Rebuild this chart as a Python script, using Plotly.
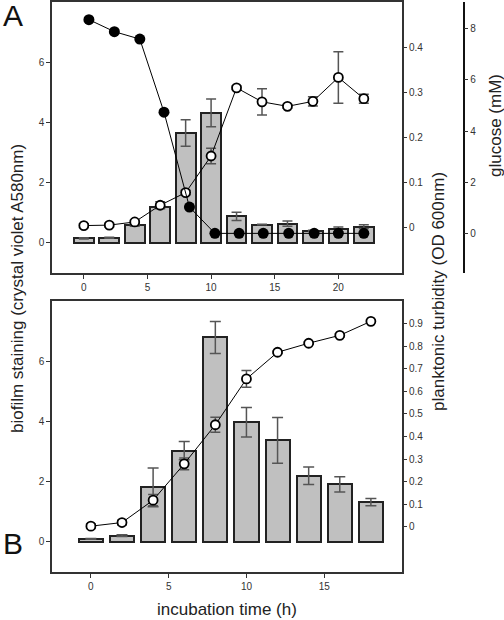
import plotly.graph_objects as go

# ---- Panel A data ----
time_a = [0, 2, 4, 6, 8, 10, 12, 14, 16, 18, 20, 22]
biofilm_a = [0.15, 0.17, 0.58, 1.2, 3.65, 4.32, 0.88, 0.61, 0.64, 0.4, 0.45, 0.54]
biofilm_a_err = [0.02, 0.02, 0.03, 0.04, 0.44, 0.46, 0.14, 0.01, 0.09, 0.02, 0.08, 0.06]
turb_a = [0.005, 0.006, 0.013, 0.05, 0.078, 0.159, 0.31, 0.279, 0.269, 0.28, 0.333, 0.286]
turb_a_err = [0.004, 0.004, 0.004, 0.008, 0.005, 0.017, 0.004, 0.029, 0.004, 0.01, 0.057, 0.01]
gluc_time = [0.4, 2.4, 4.4, 6.3, 8.3, 10.3, 12.2, 14.1, 16.1, 18.1, 20.0, 22.0]
glucose = [8.36, 7.89, 7.6, 4.74, 1.03, 0.0, 0.0, 0.0, 0.0, 0.0, 0.0, 0.0]

# ---- Panel B data ----
time_b = [0, 2, 4, 6, 8, 10, 12, 14, 16, 18]
biofilm_b = [0.1, 0.21, 1.81, 3.03, 6.79, 3.97, 3.37, 2.2, 1.91, 1.32]
biofilm_b_err = [0.01, 0.03, 0.64, 0.3, 0.53, 0.49, 0.76, 0.29, 0.25, 0.12]
turb_b = [0.003, 0.019, 0.118, 0.279, 0.452, 0.655, 0.773, 0.813, 0.848, 0.91]
turb_b_err = [0.01, 0.01, 0.025, 0.026, 0.033, 0.037, 0.005, 0.005, 0.007, 0.005]

# tick labels
left_ticks = [0, 2, 4, 6]
xa_ticks = [0, 5, 10, 15, 20]
xb_ticks = [0, 5, 10, 15]
turb_a_ticks = [0, 0.1, 0.2, 0.3, 0.4]
turb_b_ticks = [0, 0.1, 0.2, 0.3, 0.4, 0.5, 0.6, 0.7, 0.8, 0.9]
gluc_ticks = [0, 2, 4, 6, 8]

FONT = "Liberation Sans, Arial, sans-serif"
BAR_FILL = "#c0c0c0"
ERR = "#555555"

W, H = 504, 620
def px(x):
    return x / W
def py(y):
    return 1 - y / H

fig = go.Figure()

bar_style = dict(marker=dict(color=BAR_FILL, line=dict(color="#222222", width=2)), width=1.55, showlegend=False)

fig.add_trace(go.Bar(x=time_a, y=biofilm_a, xaxis="x", yaxis="y",
                     error_y=dict(type="data", array=biofilm_a_err, color=ERR, thickness=1.5, width=5),
                     **bar_style))
fig.add_trace(go.Scatter(x=time_a, y=turb_a, xaxis="x", yaxis="y2", mode="lines+markers",
                         line=dict(color="black", width=1),
                         marker=dict(symbol="circle", size=9, color="white", line=dict(color="black", width=1.8)),
                         error_y=dict(type="data", array=turb_a_err, color=ERR, thickness=1.5, width=5),
                         showlegend=False))
fig.add_trace(go.Scatter(x=gluc_time, y=glucose, xaxis="x", yaxis="y3", mode="lines+markers",
                         line=dict(color="black", width=1),
                         marker=dict(symbol="circle", size=11, color="black"),
                         showlegend=False))

fig.add_trace(go.Bar(x=time_b, y=biofilm_b, xaxis="x2", yaxis="y4",
                     error_y=dict(type="data", array=biofilm_b_err, color=ERR, thickness=1.5, width=5.5),
                     **bar_style))
fig.add_trace(go.Scatter(x=time_b, y=turb_b, xaxis="x2", yaxis="y5", mode="lines+markers",
                         line=dict(color="black", width=1),
                         marker=dict(symbol="circle", size=9, color="white", line=dict(color="black", width=1.8)),
                         error_y=dict(type="data", array=turb_b_err, color=ERR, thickness=1.5, width=5),
                         showlegend=False))

dom_x = [px(52), px(402)]
dom_a = [py(273), py(2)]
dom_b = [py(572), py(301)]

axcommon = dict(showgrid=False, zeroline=False, ticks="outside", ticklen=4, tickwidth=1, automargin=False,
                tickcolor="#333333", tickfont=dict(family=FONT, size=10, color="#333333"))
frame = dict(showline=True, linecolor="#333333", linewidth=1.5, mirror=True)

fig.update_layout(
    width=W, height=H, margin=dict(l=0, r=0, t=0, b=0, autoexpand=False),
    paper_bgcolor="white", plot_bgcolor="white", showlegend=False,
    font=dict(family=FONT),
    xaxis=dict(domain=dom_x, anchor="y", range=[-2.5, 25], tickvals=xa_ticks, **axcommon, **frame),
    yaxis=dict(domain=dom_a, anchor="x", range=[-1, 8], tickvals=left_ticks, **axcommon, **frame),
    yaxis2=dict(overlaying="y", anchor="x", side="right", range=[-0.1, 0.5], tickvals=turb_a_ticks,
                showline=False, **axcommon),
    yaxis3=dict(overlaying="y", anchor="free", position=px(463.5), side="right", range=[-1.55, 9.05],
                tickvals=gluc_ticks, showline=True, linecolor="#111111", linewidth=1.5, **axcommon),
    xaxis2=dict(domain=dom_x, anchor="y4", range=[-2.5, 20], tickvals=xb_ticks, **axcommon, **frame),
    yaxis4=dict(domain=dom_b, anchor="x2", range=[-1, 8], tickvals=left_ticks, **axcommon, **frame),
    yaxis5=dict(overlaying="y4", anchor="x2", side="right", range=[-0.2, 1.0], tickvals=turb_b_ticks,
                showline=False, **axcommon),
    bargap=0,
)

title_font = dict(family=FONT, size=17, color="#222222")
annots = [
    dict(text="biofilm staining (crystal violet A580nm)", x=px(18), y=py(289), textangle=-90),
    dict(text="planktonic turbidity (OD 600nm)", x=px(438), y=py(292), textangle=-90),
    dict(text="glucose (mM)", x=px(495), y=py(126), textangle=-90),
    dict(text="incubation time (h)", x=px(227), y=py(609), textangle=0),
]
for a in annots:
    fig.add_annotation(xref="paper", yref="paper", showarrow=False, xanchor="center", yanchor="middle",
                       font=title_font, borderpad=0, **a)
fig.add_annotation(text="A", xref="paper", yref="paper", x=px(13), y=py(16), showarrow=False, borderpad=0,
                   xanchor="center", yanchor="middle", font=dict(family=FONT, size=30, color="#111111"))
fig.add_annotation(text="B", xref="paper", yref="paper", x=px(13), y=py(543), showarrow=False, borderpad=0,
                   xanchor="center", yanchor="middle", font=dict(family=FONT, size=30, color="#111111"))

fig.write_html("out.html", config={"displayModeBar": False},
               post_script="document.body.style.margin='0px';")
